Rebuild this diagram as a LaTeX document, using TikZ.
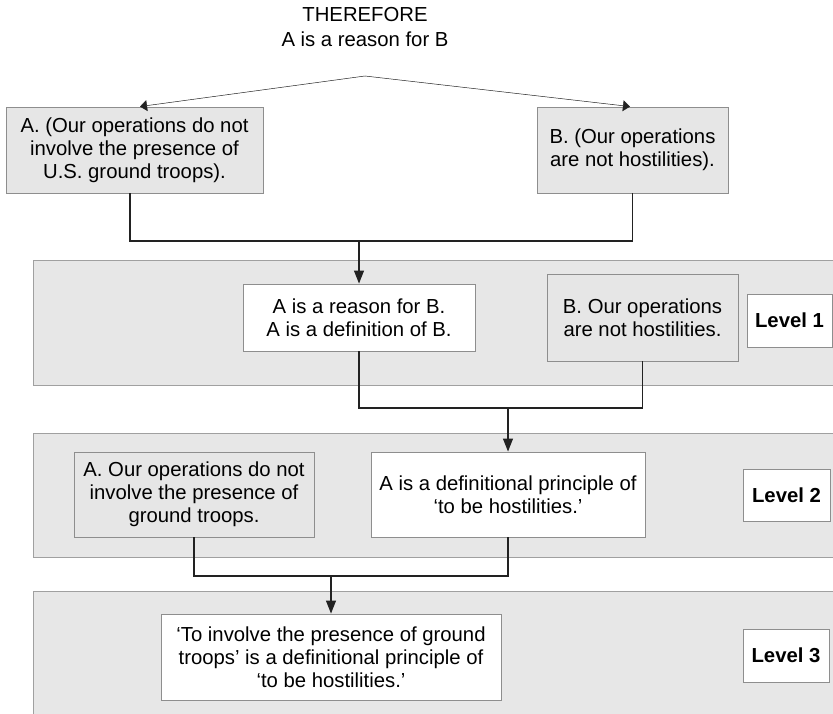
\documentclass[tikz,border=0pt]{standalone}
\usepackage{fontspec}
\setmainfont{Liberation Sans}
\usetikzlibrary{arrows.meta}
\definecolor{bandfill}{HTML}{E7E7E7}
\definecolor{bandline}{HTML}{A0A0A0}
\definecolor{boxfill}{HTML}{E6E6E6}
\definecolor{boxline}{HTML}{8E8E8E}
\definecolor{linecol}{HTML}{222222}
\newcommand{\mfs}{\fontsize{20.3pt}{22.8pt}\selectfont}
\tikzset{
  band/.style={draw=bandline, fill=bandfill, line width=0.9pt},
  graybox/.style={draw=boxline, fill=boxfill, line width=0.9pt, align=center, inner sep=0pt, font=\mfs},
  whitebox/.style={draw=boxline, fill=white, line width=0.9pt, align=center, inner sep=0pt, font=\mfs},
  lvlbox/.style={draw=boxline, fill=white, line width=0.9pt, align=center, inner sep=0pt, font=\mfs\bfseries},
  conn/.style={draw=linecol, line width=1.1pt},
  arr/.style={conn, -{Triangle[length=13pt,width=10pt]}},
  toparr/.style={draw=linecol, line width=0.5pt, -{Triangle[length=7pt,width=11pt]}}
}
\begin{document}
\begin{tikzpicture}[x=1pt,y=-1pt]
\useasboundingbox (0,0) rectangle (833,714);
\clip (0,0) rectangle (833,714);
% bands
\path[band] (33,260) rectangle (845,385);
\path[band] (33,433) rectangle (845,557);
\path[band] (33,591) rectangle (845,730);
% title
\node[align=center, font=\fontsize{20.3pt}{25pt}\selectfont, inner sep=0pt] (title) at (365,27) {THEREFORE\\A is a reason for B};
\coordinate (apex) at (365,76);
% top boxes
\node[graybox, minimum width=257pt, minimum height=86pt] (A) at (134.5,150) {A. (Our operations do not\\involve the presence of\\U.S. ground troops).};
\node[graybox, minimum width=191pt, minimum height=86pt] (B) at (632.5,150) {B. (Our operations\\are not hostilities).};
% level 1
\node[whitebox, minimum width=232pt, minimum height=67pt] (reason) at (359,317.5) {A is a reason for B.\\A is a definition of B.};
\node[graybox, minimum width=191pt, minimum height=87pt] (B2) at (642.5,317.5) {B. Our operations\\are not hostilities.};
\node[lvlbox, minimum width=85pt, minimum height=53pt] (L1) at (789.5,320.5) {Level 1};
% level 2
\node[graybox, minimum width=240pt, minimum height=85pt] (A2) at (194,494.5) {A. Our operations do not\\involve the presence of\\ground troops.};
\node[whitebox, minimum width=274pt, minimum height=85pt] (def) at (508,494.5) {A is a definitional principle of\\`to be hostilities.'};
\node[lvlbox, minimum width=87pt, minimum height=52pt] (L2) at (786.5,495) {Level 2};
% level 3
\node[whitebox, minimum width=340pt, minimum height=86pt] (inv) at (331,657) {`To involve the presence of ground\\troops' is a definitional principle of\\`to be hostilities.'};
\node[lvlbox, minimum width=86pt, minimum height=53pt] (L3) at (786,655.5) {Level 3};
% top arrows
\draw[toparr] (apex) -- ([xshift=5.5pt]A.north);
\draw[toparr] (apex) -- ([xshift=-2.5pt]B.north);
% connectors
\coordinate (j1) at (359,241);
\coordinate (j2) at (508,408);
\coordinate (j3) at (331,576);
\coordinate (Ab) at ([xshift=-4.5pt]A.south);
\draw[conn] (Ab) -- (Ab |- j1) -- (B.south |- j1) -- (B.south);
\draw[arr] (j1) -- (reason.north);
\draw[conn] (reason.south) |- (j2) -| (B2.south);
\draw[arr] (j2) -- (def.north);
\draw[conn] (A2.south) |- (j3) -| (def.south);
\draw[arr] (j3) -- (inv.north);
\end{tikzpicture}
\end{document}
